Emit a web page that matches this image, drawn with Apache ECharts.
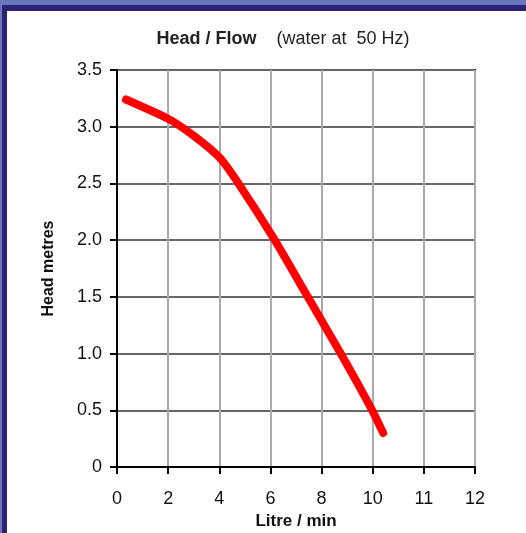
<!DOCTYPE html>
<html>
<head>
<meta charset="utf-8">
<script src="https://cdn.jsdelivr.net/npm/echarts@6/dist/echarts.min.js"></script>
<style>
html,body{margin:0;padding:0;background:#ffffff;}
#outer{position:absolute;left:0;top:0;width:526px;height:533px;background:#6878b8;}
#navy{position:absolute;left:2px;top:5px;width:524px;height:528px;background:#2c2278;}
#panel{position:absolute;left:7px;top:11px;width:519px;height:522px;background:#ffffff;}
#chart{position:absolute;left:0;top:0;width:526px;height:533px;}
</style>
</head>
<body>
<div id="outer"></div><div id="navy"></div><div id="panel"></div>
<div id="chart"></div>
<script>
// Tick labels printed on the x axis (equally spaced positions 0,2,...,14)
var xTickLabels = ['0', '2', '4', '6', '8', '10', '11', '12'];
var yTickLabels = ['0', '0.5', '1.0', '1.5', '2.0', '2.5', '3.0', '3.5'];
// Curve positions along the x axis (axis position units) and head in metres
var flowPos = [0.35, 2.0, 3.0, 4.0, 4.75, 6.17, 7.46, 8.75, 9.98, 10.41];
var headM  = [3.24, 3.07, 2.92, 2.73, 2.5, 2.0, 1.5, 1.0, 0.5, 0.3];

var chart = echarts.init(document.getElementById('chart'), null, {renderer: 'canvas'});
var font = 'Liberation Sans, Arial, sans-serif';
var pts = flowPos.map(function (x, i) { return [x, headM[i]]; });

chart.setOption({
  backgroundColor: 'transparent',
  animation: false,
  title: {
    text: '{b|Head / Flow}    {n|(water at  50 Hz)}',
    left: 278, top: 25, textAlign: 'center',
    textStyle: {
      fontFamily: font, fontWeight: 'normal',
      rich: {
        b: {fontFamily: font, fontSize: 18, fontWeight: 'bold', color: '#222'},
        n: {fontFamily: font, fontSize: 18, fontWeight: 'normal', color: '#222'}
      }
    }
  },
  grid: {left: 117, right: 51, top: 70, bottom: 66, outerBoundsMode: 'none', containLabel: false,
         show: true, borderColor: '#000', borderWidth: 2, backgroundColor: 'transparent'},
  xAxis: {
    type: 'value', min: 0, max: 14, interval: 2,
    name: 'Litre / min', nameLocation: 'middle', nameGap: 40,
    nameTextStyle: {fontFamily: font, fontSize: 17, fontWeight: 'bold', color: '#111'},
    axisLine: {show: true, onZero: false, lineStyle: {color: '#000', width: 2}},
    axisTick: {show: true, length: 7, lineStyle: {color: '#000', width: 2}},
    axisLabel: {
      fontFamily: font, fontSize: 18, color: '#111', margin: 23,
      formatter: function (v) { return xTickLabels[Math.round(v / 2)]; }
    },
    splitLine: {show: true, lineStyle: {color: '#aaaaaa', width: 2}}
  },
  yAxis: {
    type: 'value', min: 0, max: 3.5, interval: 0.5,
    name: 'Head metres', nameLocation: 'middle', nameGap: 60, nameRotate: 90,
    nameTextStyle: {fontFamily: font, fontSize: 16, fontWeight: 'bold', color: '#111'},
    axisLine: {show: true, lineStyle: {color: '#000', width: 2}},
    axisTick: {show: true, length: 7, lineStyle: {color: '#000', width: 2}},
    axisLabel: {
      fontFamily: font, fontSize: 18, color: '#111', margin: 15,
      formatter: function (v) { return yTickLabels[Math.round(v * 2)]; }
    },
    splitLine: {show: true, lineStyle: {color: '#666666', width: 2}}
  },
  series: [{
    type: 'line',
    data: pts,
    smooth: 0.2,
    showSymbol: false,
    lineStyle: {color: '#ff0000', width: 8, cap: 'round', join: 'round'}
  }]
});
</script>
</body>
</html>
